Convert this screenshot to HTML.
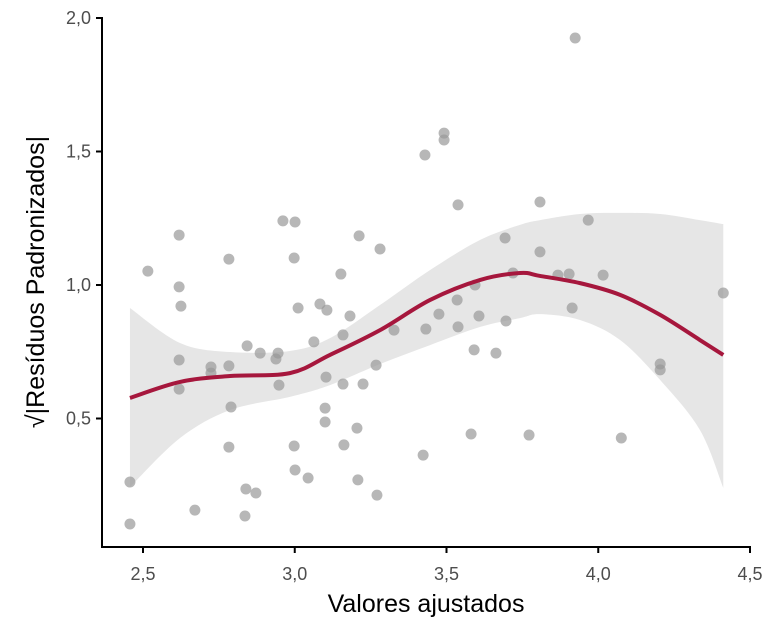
<!DOCTYPE html>
<html><head><meta charset="utf-8"><style>
body{margin:0;background:#fff}
svg text{font-family:"Liberation Sans",sans-serif}
</style></head><body>
<svg id="chart" width="768" height="633" xmlns="http://www.w3.org/2000/svg">
<g id="band"></g>
<g id="points"></g>
<g id="line"></g>
<g id="axes"></g>
</svg>
<script>
const xs=[2.457,2.457,2.516,2.619,2.619,2.625,2.619,2.619,2.671,2.724,2.724,2.783,2.783,2.79,2.783,2.843,2.839,2.836,2.872,2.886,2.938,2.945,2.948,2.961,2.998,3.001,3.011,2.998,3.001,3.044,3.063,3.083,3.106,3.103,3.1,3.1,3.152,3.159,3.162,3.159,3.182,3.205,3.208,3.212,3.225,3.271,3.268,3.281,3.327,3.423,3.429,3.432,3.475,3.492,3.492,3.538,3.538,3.535,3.581,3.594,3.591,3.607,3.663,3.696,3.693,3.719,3.772,3.808,3.808,3.867,3.904,3.914,3.924,3.967,4.016,4.076,4.204,4.204,4.412];
const ys=[0.262,0.105,1.052,1.187,0.993,0.921,0.719,0.61,0.157,0.693,0.67,1.097,0.697,0.543,0.393,0.772,0.236,0.135,0.221,0.745,0.723,0.745,0.625,1.24,1.101,1.236,0.914,0.397,0.307,0.277,0.787,0.929,0.906,0.655,0.539,0.487,1.041,0.813,0.401,0.629,0.884,0.464,0.27,1.184,0.629,0.213,0.7,1.135,0.831,0.363,1.487,0.835,0.891,1.569,1.543,1.3,0.843,0.944,0.442,1.0,0.757,0.884,0.745,0.865,1.176,1.045,0.438,1.311,1.124,1.037,1.041,0.914,1.925,1.243,1.037,0.427,0.704,0.682,0.97];
const fitX=[2.457,2.622,2.787,2.984,3.116,3.281,3.446,3.611,3.742,3.808,3.94,4.072,4.204,4.335,4.412];
const fitY=[0.577,0.637,0.659,0.67,0.738,0.831,0.944,1.019,1.045,1.034,1.007,0.963,0.888,0.794,0.738];
const upper=[0.914,0.783,0.749,0.753,0.801,0.925,1.056,1.169,1.225,1.243,1.266,1.27,1.266,1.243,1.228];
const lower=[0.243,0.427,0.532,0.581,0.625,0.704,0.775,0.843,0.876,0.891,0.869,0.794,0.644,0.457,0.24];
const xTicks=[2.5,3.0,3.5,4.0,4.5];
const xTickLabels=["2,5","3,0","3,5","4,0","4,5"];
const yTicks=[0.5,1.0,1.5,2.0];
const yTickLabels=["0,5","1,0","1,5","2,0"];
const NS="http://www.w3.org/2000/svg";
const X=v=>143+(v-2.5)*303.5;
const Y=v=>18+(2.0-v)*267;
function mk(tag,attrs,parent){const e=document.createElementNS(NS,tag);for(const k in attrs)e.setAttribute(k,attrs[k]);parent.appendChild(e);return e;}
function smooth(p,start){
 let d=start?("M"+p[0][0]+","+p[0][1]):("L"+p[0][0]+","+p[0][1]);
 for(let i=0;i<p.length-1;i++){
  const p0=p[Math.max(0,i-1)],p1=p[i],p2=p[i+1],p3=p[Math.min(p.length-1,i+2)];
  const c1=[p1[0]+(p2[0]-p0[0])/6,p1[1]+(p2[1]-p0[1])/6];
  const c2=[p2[0]-(p3[0]-p1[0])/6,p2[1]-(p3[1]-p1[1])/6];
  d+="C"+c1+" "+c2+" "+p2;
 }
 return d;
}
const band=document.getElementById('band'),pts=document.getElementById('points'),ln=document.getElementById('line'),ax=document.getElementById('axes');
const up=fitX.map((x,i)=>[X(x),Y(upper[i])]);
const lo=fitX.map((x,i)=>[X(x),Y(lower[i])]).reverse();
const bp=mk('path',{d:smooth(up,true)+smooth(lo,false)+"Z",fill:"#e6e6e6"},band);


xs.forEach((x,i)=>{
 const c=mk('circle',{cx:X(x),cy:Y(ys[i]),r:5.5,fill:"#999",'fill-opacity':0.7},pts);
 
 
});
const fp=fitX.map((x,i)=>[X(x),Y(fitY[i])]);
const lp=mk('path',{d:smooth(fp,true),fill:"none",stroke:"#a6173d","stroke-width":4,"stroke-linejoin":"round"},ln);


mk('line',{x1:102,y1:547,x2:751,y2:547,stroke:"#000","stroke-width":2},ax);
mk('line',{x1:102,y1:17,x2:102,y2:548,stroke:"#000","stroke-width":2},ax);
xTicks.forEach((v,i)=>{
 mk('line',{x1:X(v),y1:547,x2:X(v),y2:553,stroke:"#000","stroke-width":2},ax);
 const t=mk('text',{x:X(v),y:580,'text-anchor':'middle','font-size':18,fill:"#4d4d4d"},ax);
 t.textContent=xTickLabels[i];
 
 
});
yTicks.forEach((v,i)=>{
 mk('line',{x1:96,y1:Y(v),x2:102,y2:Y(v),stroke:"#000","stroke-width":2},ax);
 const t=mk('text',{x:91,y:Y(v)+6,'text-anchor':'end','font-size':18,fill:"#4d4d4d"},ax);
 t.textContent=yTickLabels[i];
 
 
});
</script>
<svg style="position:absolute;left:0;top:0" width="768" height="633" xmlns="http://www.w3.org/2000/svg">
<text x="426" y="612" text-anchor="middle" font-size="25" fill="#000" font-family="Liberation Sans, sans-serif">Valores ajustados</text>
<text transform="translate(44,282) rotate(-90)" text-anchor="middle" font-size="25" fill="#000" font-family="Liberation Sans, sans-serif">√|Resíduos Padronizados|</text>
</svg>
</body></html>
